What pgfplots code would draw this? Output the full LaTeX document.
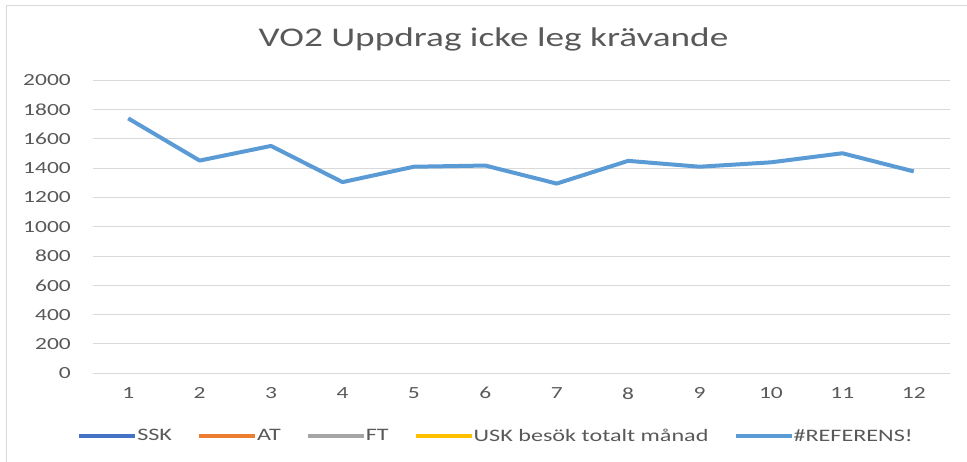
\documentclass[border=0pt]{standalone}
\usepackage{fontspec}
\setmainfont{Carlito}[FakeStretch=1.38]
\usepackage{pgfplots}
\pgfplotsset{compat=1.18}

\definecolor{txt}{HTML}{595959}
\definecolor{gridc}{HTML}{D9D9D9}
\definecolor{sskc}{HTML}{4472C4}
\definecolor{atc}{HTML}{ED7D31}
\definecolor{ftc}{HTML}{A5A5A5}
\definecolor{uskc}{HTML}{FFC000}
\definecolor{refc}{HTML}{5B9BD5}

\begin{document}
\begin{tikzpicture}[x=1pt,y=1pt]
\useasboundingbox (0,0) rectangle (967,462);
\draw[gridc, line width=1pt] (6,0) -- (6,456) -- (967,456);
\node[anchor=base, text=txt, font=\fontsize{27}{32}\selectfont] at (493.5,415) {VO2 Uppdrag icke leg krävande};

\begin{axis}[
    at={(92.5pt,88.7pt)}, anchor=south west,
    scale only axis,
    width=857pt, height=293pt,
    xmin=0.5, xmax=12.5,
    ymin=0, ymax=2000,
    xtick={1,...,12},
    ytick={0,200,...,2000},
    axis line style={draw=none},
    major tick length=0pt,
    ymajorgrids,
    grid style={gridc, line width=1pt},
    /pgf/number format/assume math mode=true,
    /pgf/number format/1000 sep={},
    tick label style={font=\fontsize{17}{20}\selectfont, text=txt, inner sep=0pt},
    yticklabel style={anchor=east, xshift=-21.5pt},
    xticklabel style={anchor=north, yshift=-14pt},
    legend columns=5,
    legend style={
        at={(axis description cs:0.4697,-0.214)}, anchor=center,
        draw=none, fill=none,
        font=\fontsize{17.5}{20}\selectfont, text=txt,
        nodes={inner xsep=0pt},
        /tikz/every even column/.append style={column sep=25pt},
    },
    legend image code/.code={\draw[#1, line width=4pt] (0pt,0pt) -- (56pt,0pt);},
]
\addlegendimage{sskc}
\addlegendentry{SSK}
\addlegendimage{atc}
\addlegendentry{AT}
\addlegendimage{ftc}
\addlegendentry{FT}
\addlegendimage{uskc}
\addlegendentry{USK besök totalt månad}
\addplot[refc, line width=4pt, line join=round] coordinates {
    (1, 1740)
    (2, 1452)
    (3, 1552)
    (4, 1305)
    (5, 1410)
    (6, 1418)
    (7, 1295)
    (8, 1450)
    (9, 1410)
    (10, 1440)
    (11, 1502)
    (12, 1378)
};
\addlegendentry{\#REFERENS!}
\end{axis}
\end{tikzpicture}
\end{document}
